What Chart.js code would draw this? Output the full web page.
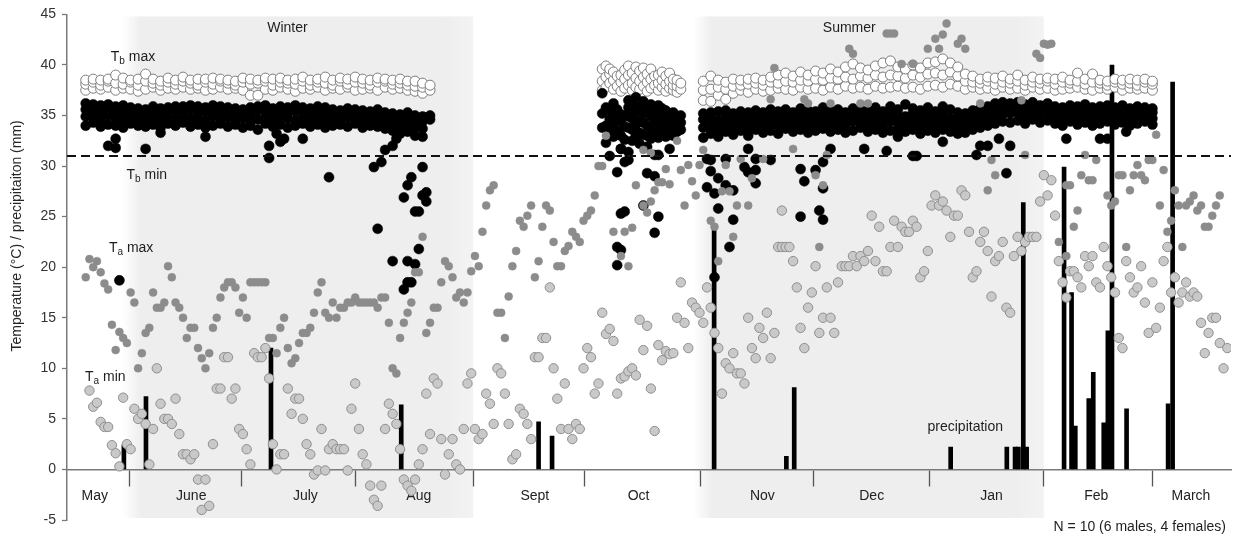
<!DOCTYPE html>
<html>
<head>
<meta charset="utf-8">
<script src="https://cdn.jsdelivr.net/npm/chart.js@4.4.0/dist/chart.umd.min.js"></script>
<style>
  html, body { margin: 0; padding: 0; background: #ffffff; }
  #wrap { width: 1237px; height: 539px; }
</style>
</head>
<body>
<div id="wrap"><canvas id="chart" width="1237" height="539"></canvas></div>
<script>
// ---- Axis labels -------------------------------------------------------
// x axis is in days from mid-May; month names sit between the tick marks.
const monthNames     = ['May', 'June', 'July', 'Aug', 'Sept', 'Oct', 'Nov', 'Dec', 'Jan', 'Feb', 'March'];
const monthLabelDays = [7.4, 33.2, 63.7, 94, 125, 152.7, 185.8, 215, 247, 275, 300.3];
const monthStartDays = [16.7, 46.5, 77.2, 108.5, 138.4, 169.3, 199.5, 230.5, 261, 290];
const yTicks = [-5, 0, 5, 10, 15, 20, 25, 30, 35, 40, 45];

// Season periods (day ranges)
const winterDays = [16.5, 108.5];
const summerDays = [169, 261];

// Threshold drawn as the dashed line (°C)
const tbMinThreshold = 31;

// ---- Body temperature maxima: [day, values of individuals...] ----------
const tbMaxWinter = [
  [5,37.5,38.1,38.5],[7,37.7,38.3,38.6],[9,37.6,38.0,38.5],[11,37.8,38.4,38.6],[13,37.5,38.2,39.0],
  [15,37.7,38.1,38.7],[17,37.6,38.3,38.5],[19,37.4,38.0,38.6],[21,37.6,38.4,39.1],[23,37.8,38.2,38.6],
  [25,37.5,38.0,38.4],[27,37.7,38.3,38.7],[29,37.6,38.1,38.5],[31,37.8,38.4,38.8],[33,37.6,38.2,38.5],
  [35,37.7,38.0,38.6],[37,37.5,38.3,38.6],[39,37.6,38.1,38.7],[41,37.8,38.4,38.6],[43,37.6,38.2,38.5],
  [45,37.7,38.0,38.4],[47,37.5,38.3,38.7],[49,37.0,38.1,38.6],[51,37.0,38.2,38.5],[53,37.6,38.4,38.7],
  [55,37.5,38.0,38.6],[57,37.8,38.3,38.7],[59,37.6,38.2,38.5],[61,37.4,38.1,38.6],[63,37.7,38.4,38.8],
  [65,37.6,38.0,38.5],[67,37.8,38.3,38.6],[69,37.5,38.2,38.8],[71,37.7,38.0,38.5],[73,37.6,38.4,38.7],
  [75,37.8,38.1,38.6],[77,37.5,38.3,38.8],[79,37.6,38.2,38.6],[81,37.7,38.0,38.5],[83,37.5,38.3,38.7],
  [85,37.8,38.4,38.6],[87,37.6,38.1,38.5],[89,37.7,38.2,38.6],[91,37.5,38.0,38.4],[93,37.4,37.9,38.4],
  [95,37.2,37.8,38.2],[97,37.5,38.0]
];
const tbMaxOct = [
  [143,37.5,38.4,39.6],[144,37.8,38.8,39.9],[145,38.2,39.1,39.6],[146,37.6,38.5,39.3],[147,37.9,38.9],
  [148,37.4,38.3,39.0],[149,37.7,38.6,39.5],[150,38.0,39.0,39.9],[151,37.5,38.2,39.2],[152,37.8,38.7,39.8],
  [153,37.6,38.4,39.4],[154,37.9,38.8,39.7],[155,37.4,38.3,39.1],[156,37.7,38.6,39.6],[157,38.0,38.9],
  [158,37.5,38.2,39.0],[159,37.8,38.5,39.3],[160,37.4,38.1,38.9],[161,37.7,38.4,39.2],[162,37.5,38.0,38.6],
  [163,37.3,37.9,38.5],[164,37.6,38.2]
];
const tbMaxSummer = [
  [170,36.5,37.5,38.4],[172,36.4,37.6,38.9],[174,37.0,37.8,38.5],[176,36.6,37.6,38.3],[178,37.2,37.9,38.6],
  [180,37.5,38.0,38.5],[182,37.3,38.1,38.6],[184,37.6,38.2,38.7],[186,37.4,38.0,38.5],[188,37.5,38.3,38.8],
  [190,37.7,38.2,39.0],[192,37.6,38.4,39.2],[194,37.5,38.3,38.9],[196,37.8,38.5,39.3],[198,37.6,38.4,39.0],
  [200,37.7,38.6,39.4],[202,37.5,38.5,39.2],[204,37.8,38.7,39.6],[206,37.6,38.6,39.3],[208,37.9,38.8,39.8],
  [210,37.7,38.6,40.1],[212,37.8,38.9,39.7],[214,37.6,38.7,39.5],[216,37.9,39.0,39.9],[218,37.7,38.8,40.2],
  [220,37.8,39.0,40.4],[222,37.9,38.9,39.8],[224,37.7,38.7,39.6],[226,37.8,39.0,40.0],[228,37.6,38.8,39.7],
  [230,37.9,39.1,40.2],[232,38.0,39.2,40.3],[234,37.8,39.0,40.6],[236,38.1,39.3,40.2],[238,37.9,38.9,39.8],
  [240,37.6,38.4,39.1],[242,37.8,38.3,38.9],[244,37.6,38.2,38.6],[246,37.7,38.4,38.8],[248,37.5,38.1,38.7],
  [250,37.8,38.3,38.9],[252,37.6,38.2,38.6],[254,37.7,38.4,39.0],[256,37.5,38.0,38.5],[258,37.8,38.3,38.8],
  [260,37.6,38.2,38.6],[262,37.7,38.4,38.7],[264,37.5,38.1,38.6],[266,37.6,38.3,38.8],[268,37.7,38.2,38.5],
  [270,37.8,38.4,39.2],[272,37.6,38.1,38.6],[274,37.5,38.3,39.1],[276,37.7,38.2,38.5],[278,37.6,38.0,38.4],
  [280,37.8,38.3,38.6],[282,37.5,38.1,38.5],[284,37.7,38.2,38.6],[286,37.6,38.0,38.5],[288,37.7,38.3,38.6],
  [290,37.5,38.1,38.4]
];

// ---- Body temperature minima: [day, values of individuals...] ----------
const tbMinWinter = [
  [5,34.0,34.9,35.6,36.2],[7,34.3,35.1,35.5,36.1],[9,33.9,34.6,35.4,36.0],[11,34.1,35.0,35.8,36.1],
  [13,34.0,34.7,35.3,35.9],[15,33.8,34.5,35.2,36.0],[17,34.2,34.9,35.6,35.8],[19,34.0,34.6,35.1,35.7],
  [21,33.9,34.4,35.0,35.6],[23,34.1,34.8,35.4,35.9],[25,33.8,34.5,35.0,35.7],[27,34.2,34.9,35.3,35.8],
  [29,34.0,34.6,35.5,35.9],[31,34.3,35.0,35.4,35.9],[33,33.9,34.7,35.6,36.0],[35,34.1,34.8,35.3,35.9],
  [37,33.8,34.5,35.4,35.8],[39,34.0,34.9,35.7,36.0],[41,34.2,34.6,35.2,35.9],[43,33.9,34.8,35.5,35.8],
  [45,34.1,34.5,35.0,35.7],[47,33.8,34.7,35.3,35.6],[49,34.0,34.4,35.1,35.8],[51,33.6,34.6,35.5,35.9],
  [53,34.2,34.8,35.4,36.0],[55,33.9,34.5,35.2,35.7],[57,34.1,34.9,35.6,35.9],[59,33.8,34.7,35.3,35.8],
  [61,34.0,34.5,35.4,36.0],[63,34.2,34.8,35.6,35.8],[65,33.9,34.6,35.1,35.7],[67,34.1,34.9,35.5,35.9],
  [69,33.8,34.4,35.2,35.8],[71,34.0,34.7,35.4,35.6],[73,34.1,34.5,35.0,35.5],[75,33.9,34.8,35.3,35.7],
  [77,34.2,34.6,35.1,35.6],[79,33.8,34.4,35.0,35.5],[81,34.0,34.7,35.2,35.4],[83,33.9,34.5,35.1,35.6],
  [85,33.7,34.3,34.9,35.3],[87,33.5,34.2,34.8,35.2],[89,33.2,34.0,34.6,35.1],[91,33.4,34.1,34.7,35.3],
  [93,33.0,33.8,34.5,35.0],[95,32.9,33.7,34.4,34.9]
];
const tbMinOct = [
  [143,33.8,35.2,37.2],[144,32.3,34.0,35.8],[145,33.4,34.6,35.5],[146,32.9,34.2,35.3,36.2],
  [147,33.5,34.8,35.6],[148,31.7,33.0,34.4,35.1],[149,32.6,33.9,35.0],[150,33.8,34.9,35.8,36.5],
  [151,32.5,33.6,34.7,36.2],[152,33.0,34.1,35.4,36.8],[153,32.2,33.3,34.5,35.9],[154,33.1,34.3,35.2,36.4],
  [155,31.9,33.0,34.0,35.6],[156,32.7,33.8,34.9,36.1],[157,33.4,34.6,35.5],[158,32.8,33.9,35.0,36.0],
  [159,33.3,34.4,35.7],[160,32.9,33.7,34.8,35.5],[161,33.5,34.2,35.1],[162,33.0,33.8,34.6,35.3],
  [163,33.4,34.0,34.9],[164,33.6,34.3,35.0]
];
const tbMinSummer = [
  [170,32.8,33.8,34.6,35.2],[172,33.2,34.0,34.8,35.3],[174,32.9,33.7,34.5,35.4],[176,33.4,34.1,34.9,35.5],
  [178,33.1,33.9,34.7,35.2],[180,33.5,34.2,34.8,35.4],[182,33.0,33.8,34.6,35.3],[184,33.6,34.3,34.9,35.5],
  [186,33.3,34.0,34.7,35.3],[188,33.5,34.2,35.0,35.6],[190,33.2,34.1,34.8,35.4],[192,33.7,34.4,35.0,35.6],
  [194,33.4,34.0,34.6,35.3],[196,33.6,34.3,35.1,35.7],[198,33.3,34.1,34.8,35.5],[200,33.5,34.2,34.9,35.4],
  [202,33.7,34.4,35.1,35.8],[204,33.4,34.0,34.7,35.5],[206,33.6,34.3,35.0,35.6],[208,33.3,34.1,34.8,35.3],
  [210,33.5,34.4,35.2,35.7],[212,33.8,34.5,35.0,35.6],[214,33.4,34.2,34.9,35.5],[216,33.6,34.3,35.1,35.8],
  [218,33.3,34.0,34.8,35.4],[220,33.5,34.4,35.2,35.9],[222,33.7,34.3,35.0,35.6],[224,33.4,34.1,34.9,36.1],
  [226,33.6,34.4,35.2,35.7],[228,33.2,34.0,34.7,35.5],[230,33.5,34.2,35.0,35.8],[232,33.3,34.1,34.8,35.4],
  [234,33.6,34.4,35.1,35.9],[236,33.4,34.0,34.7,35.6],[238,33.2,33.9,34.6,35.3],[240,33.3,34.0,34.8,35.2],
  [242,33.6,34.3,34.9,35.5],[244,33.8,34.5,35.1,35.7],[246,34.0,34.7,35.3,35.9],[248,34.2,35.0,35.6,36.2],
  [250,34.4,35.1,35.7,36.3],[252,34.3,35.2,35.8,36.2],[254,34.5,35.3,35.9,36.3],[256,34.2,35.0,35.7,36.1],
  [258,34.6,35.4,35.9,36.3],[260,34.3,35.1,35.6,36.0],[262,34.5,35.3,35.8,36.2],[264,34.2,34.9,35.5,35.9],
  [266,34.0,34.7,35.3,35.8],[268,34.4,35.0,35.6,36.0],[270,34.1,34.8,35.4,35.9],[272,34.3,35.0,35.7,36.1],
  [274,34.0,34.7,35.3,35.8],[276,34.2,34.9,35.5,35.9],[278,34.4,35.1,35.6,36.0],[280,34.1,34.8,35.4,35.8],
  [282,34.3,35.0,35.5,36.0],[284,34.0,34.6,35.2,35.7],[286,34.2,34.9,35.5,35.9],[288,34.4,35.0,35.6,35.8],
  [290,34.1,34.7,35.3,35.7]
];
// Individual low readings below the main Tb min band: [day, °C]
const tbMinLow = [
  [11,32.0],[13,31.8],[13,32.7],[14,18.7],[21,31.7],[25,33.3],[37,32.9],[54,32.0],[54,30.8],[56,33.2],
  [57,32.4],[58,32.7],[63,32.7],[70,28.9],[82,29.9],[83,23.8],[84,30.4],[85,31.6],[87,32.0],[87,20.6],
  [88,32.7],[90,26.9],[90,17.8],[91,28.1],[91,20.6],[91,18.5],[91,33.5],[92,28.9],[92,18.5],[93,25.5],
  [93,20.3],[94,25.5],[94,21.8],[95,29.9],[95,27.1],[96,27.4],[96,26.5],[96,34.8],[97,34.6],[97,35.0],
  [145,31.0],[147,29.4],[147,22.0],[147,20.2],[148,31.7],[148,25.3],[148,21.7],[149,30.4],[149,25.5],
  [150,30.6],[150,31.4],[154,26.1],[155,29.3],[157,29.0],[157,23.4],[157,31.1],[158,25.0],[158,31.1],
  [161,31.7],[171,30.7],[171,27.9],[172,30.6],[172,29.5],[173,27.3],[173,19.0],[174,28.8],[174,25.8],
  [176,28.1],[176,30.7],[177,22.0],[178,27.6],[178,24.7],[181,29.9],[182,29.4],[182,31.7],[184,30.7],
  [184,29.6],[184,28.3],[188,30.6],[196,29.7],[196,25.0],[197,28.5],[200,29.6],[201,25.6],[202,30.4],
  [202,27.8],[202,24.7],[204,31.7],[213,31.7],[219,31.5],[222,32.9],[226,31.0],[227,31.0],[234,32.4],
  [243,31.1],[244,32.0],[246,32.0],[249,32.7],[251,29.3],[252,32.0],[267,32.7],[276,32.7],[278,32.7],
  [283,33.4]
];

// ---- Air temperature: [day, °C] ----------------------------------------
const taMax = [
  [5,19.0],[6,20.8],[7,20.0],[8,20.6],[9,19.5],[10,18.4],[11,17.8],[12,14.3],[13,11.8],[14,13.6],
  [15,13.0],[16,12.5],[17,17.5],[18,16.5],[19,10.0],[20,11.5],[21,13.5],[22,14.0],[23,17.5],[24,16.0],
  [25,16.0],[26,16.5],[27,20.1],[28,19.0],[29,16.5],[30,16.0],[31,15.0],[32,13.0],[33,14.0],[34,14.0],
  [35,12.0],[36,11.0],[37,10.0],[38,11.5],[39,14.0],[40,15.0],[41,17.0],[42,18.0],[43,18.5],[44,18.5],
  [45,18.0],[46,15.5],[47,17.0],[48,15.0],[49,18.5],[50,18.5],[51,18.5],[52,18.5],[53,18.5],[54,13.0],
  [55,13.0],[56,11.5],[57,14.0],[58,15.0],[59,12.0],[60,10.5],[61,11.0],[62,12.5],[63,13.5],[64,13.5],
  [65,14.0],[66,15.5],[67,17.5],[68,18.5],[69,15.5],[70,15.0],[71,16.5],[72,15.0],[73,16.0],[74,16.0],
  [75,16.5],[76,16.5],[77,17.0],[78,16.5],[79,16.5],[80,16.5],[81,16.5],[82,16.5],[83,16.0],[84,17.0],
  [85,17.0],[86,14.5],[87,10.0],[88,9.5],[89,13.0],[90,14.5],[91,15.5],[92,16.5],[93,19.5],[94,19.5],
  [95,23.0],[96,13.5],[97,14.5],[98,16.0],[99,16.0],[100,18.5],[101,20.6],[102,20.1],[103,19.0],[104,17.0],
  [105,17.5],[106,16.5],[107,17.5],[108,19.6],[109,21.1],[110,20.1],[111,23.5],[112,26.1],[113,27.6],[114,28.1],
  [115,15.5],[116,15.5],[117,13.0],[118,17.1],[119,20.1],[120,21.6],[121,24.6],[122,24.0],[123,25.1],[124,26.1],
  [125,19.0],[126,20.6],[127,24.0],[128,26.1],[129,25.6],[130,22.5],[131,20.1],[132,20.1],[133,21.6],[134,22.1],
  [135,23.5],[136,23.0],[137,22.5],[138,24.6],[139,25.1],[140,25.6],[141,27.1],[142,30.0],[143,30.0],[144,33.0],
  [146,23.5],[148,21.1],[149,23.5],[150,20.1],[151,23.9],[152,28.1],[154,26.1],[154,31.6],[155,25.4],[156,26.5],
  [156,31.3],[157,27.6],[158,28.4],[159,28.4],[160,29.7],[161,28.2],[163,32.5],[164,29.6],[165,26.1],[166,30.1],
  [167,28.5],[168,27.1],[169,30.1],[170,31.6],[172,24.6],[173,24.0],[174,20.6],[175,27.5],[176,30.1],[177,27.5],
  [178,23.0],[179,26.1],[180,30.7],[182,26.1],[183,28.8],[186,30.7],[188,36.6],[189,39.7],[194,31.7],[197,36.6],
  [198,36.2],[200,29.1],[201,22.0],[202,28.1],[203,31.1],[204,36.2],[209,41.6],[210,41.1],[212,36.2],[214,36.2],
  [219,43.1],[220,43.1],[221,43.1],[223,40.1],[226,40.1],[230,41.6],[232,42.6],[233,41.6],[234,43.0],[235,44.1],
  [238,42.1],[239,42.6],[240,41.6],[244,36.2],[246,27.6],[247,30.6],[248,29.1],[255,36.5],[256,31.1],[259,41.1],
  [260,40.7],[261,42.1],[262,42.0],[263,42.1],[265,22.5],[267,21.1],[267,28.1],[268,28.1],[269,24.0],[270,25.6],
  [271,29.1],[272,31.1],[273,28.6],[274,28.6],[275,30.6],[278,27.1],[279,26.1],[280,26.5],[281,29.1],[282,29.1],
  [283,22.0],[284,27.6],[285,29.1],[286,30.1],[287,29.1],[288,28.6],[289,30.6],[290,30.6],[291,33.1],[292,26.1],
  [293,29.6],[294,23.5],[295,24.6],[296,27.6],[297,26.1],[298,22.0],[299,26.1],[300,26.5],[301,27.1],[302,25.6],
  [303,26.1],[304,24.0],[305,24.0],[306,25.1],[307,26.1],[308,27.1]
];
const taMin = [
  [6,7.8],[7,6.2],[8,6.6],[9,4.7],[10,4.2],[11,4.2],[12,2.4],[13,1.6],[14,0.3],[15,7.1],
  [16,2.5],[17,2.0],[18,6.0],[19,5.0],[20,5.5],[21,4.5],[22,0.5],[23,4.0],[24,10.0],[25,6.5],
  [26,5.0],[27,5.0],[28,4.5],[29,7.0],[30,3.5],[31,1.5],[32,1.5],[33,1.0],[34,1.5],[35,-1.0],
  [36,-4.0],[37,-1.0],[38,-3.6],[39,2.5],[40,8.0],[41,8.0],[42,11.1],[43,11.1],[44,7.0],[45,8.0],
  [46,4.0],[47,3.5],[48,2.0],[49,0.5],[50,11.5],[51,11.1],[52,11.1],[53,12.0],[54,9.0],[55,2.5],
  [56,0.0],[57,1.5],[58,1.5],[59,8.0],[60,5.5],[61,7.0],[62,7.0],[63,5.0],[64,2.5],[65,1.5],
  [66,-0.5],[67,-0.1],[68,4.0],[69,-0.1],[70,2.0],[71,2.5],[72,2.0],[73,2.0],[74,2.0],[75,-0.1],
  [76,6.0],[77,8.5],[78,4.0],[79,1.5],[80,0.5],[81,-1.6],[82,-3.0],[83,-3.6],[84,-1.6],[85,4.0],
  [86,6.5],[87,5.5],[88,4.5],[89,2.0],[90,-1.0],[91,-1.6],[92,-2.1],[93,-1.0],[94,0.5],[95,2.0],
  [96,7.5],[97,3.5],[98,9.0],[99,8.5],[100,3.0],[101,-0.5],[102,1.5],[103,3.0],[104,0.5],[105,0.0],
  [106,4.0],[107,8.5],[108,9.5],[109,4.0],[110,3.0],[111,3.5],[112,7.5],[113,6.5],[114,4.5],[115,10.0],
  [116,9.5],[117,7.5],[118,4.5],[119,1.0],[120,1.5],[121,6.0],[122,5.5],[123,4.5],[124,3.0],[125,11.1],
  [126,11.1],[127,13.0],[128,13.0],[129,18.0],[130,10.0],[131,7.0],[132,4.0],[133,8.5],[134,4.0],[135,3.0],
  [136,4.5],[137,4.0],[138,10.0],[139,12.0],[140,11.1],[141,7.5],[142,8.5],[143,15.5],[144,13.4],[145,13.9],
  [146,12.7],[147,7.5],[148,9.0],[149,9.2],[150,9.7],[151,10.0],[152,9.3],[153,14.8],[154,11.8],[155,14.2],
  [156,8.0],[157,3.8],[158,12.3],[159,10.8],[160,11.7],[161,11.4],[162,11.5],[163,15.0],[164,18.5],[165,14.5],
  [166,12.0],[167,16.5],[168,16.0],[169,15.5],[170,14.5],[171,18.0],[172,16.0],[173,13.5],[174,12.0],[175,7.5],
  [176,10.5],[177,10.0],[178,11.5],[179,9.5],[180,9.5],[181,8.5],[182,15.0],[183,12.0],[184,11.0],[185,14.0],
  [186,13.0],[187,15.5],[188,11.0],[189,13.5],[190,22.0],[191,22.0],[191,25.6],[192,22.0],[193,22.0],[194,20.6],
  [195,18.0],[196,14.0],[197,12.0],[198,16.0],[199,17.5],[200,20.1],[201,13.5],[202,15.0],[203,18.0],[204,15.0],
  [205,13.5],[206,18.5],[207,20.1],[208,20.1],[209,20.1],[210,21.1],[211,20.1],[212,21.1],[213,20.6],[214,21.6],
  [215,25.1],[216,20.6],[217,24.0],[218,19.6],[219,19.6],[220,22.0],[221,24.6],[222,22.0],[223,24.0],[224,23.5],
  [225,23.5],[226,24.6],[227,24.0],[228,19.0],[229,19.6],[230,21.6],[231,26.1],[232,27.1],[233,26.1],[234,26.5],
  [235,25.6],[236,23.0],[237,25.1],[238,25.1],[239,27.6],[240,27.1],[241,23.5],[242,19.0],[243,19.6],[244,22.5],
  [245,23.5],[246,21.6],[247,17.1],[248,20.6],[249,21.1],[250,22.5],[251,16.0],[252,15.5],[253,21.1],[254,23.0],
  [255,21.6],[256,22.5],[257,23.0],[258,23.0],[259,23.0],[260,26.5],[261,29.1],[262,27.1],[263,28.6],[264,25.1],
  [265,20.6],[266,18.5],[267,17.0],[268,19.6],[269,19.6],[270,19.0],[271,18.0],[272,21.1],[273,20.1],[274,21.1],
  [275,18.5],[276,18.0],[277,22.0],[278,20.1],[279,19.0],[280,17.5],[281,13.0],[282,12.0],[283,20.6],[284,19.0],
  [285,17.5],[286,18.0],[287,20.1],[288,16.5],[289,13.5],[290,18.5],[291,14.0],[292,16.0],[293,20.6],[294,22.0],
  [295,17.5],[296,19.0],[297,16.5],[298,17.5],[299,18.5],[300,17.1],[301,17.5],[302,17.1],[303,14.5],[304,11.5],
  [305,13.5],[306,15.0],[307,15.0],[308,12.5],[309,10.0],[310,12.0]
];

// ---- Daily precipitation: [day, mm] ------------------------------------
const precipitation = [
  [15.2,2.4],[21.1,7.2],[54.5,12.0],[89.3,6.4],[126.0,4.7],[129.6,3.3],[172.9,24.3],[192.2,1.3],
  [194.3,8.1],[236.1,2.2],[251.1,2.2],[253.3,2.2],[254.2,2.2],[255.5,26.4],[256.4,2.2],[266.4,29.9],
  [268.4,17.5],[269.4,4.3],[273.0,7.0],[274.2,9.6],[277.0,4.6],[278.1,13.7],[279.2,40.0],[283.1,6.0],
  [294.2,6.5],[295.4,38.3]
];

// ---- Helpers -------------------------------------------------------------
const fromRecords = recs => recs.flatMap(r => r.slice(1).map(v => ({ x: r[0], y: v })));
const fromPairs = pairs => pairs.map(([d, v]) => ({ x: d, y: v }));

const FONT = '"Liberation Sans", Arial, Helvetica, sans-serif';
Chart.defaults.font.family = FONT;
Chart.defaults.font.size = 14;
Chart.defaults.color = '#262626';

const xTickValues = [...monthStartDays, ...monthLabelDays].sort((a, b) => a - b);

// Text placed in data coordinates [day, °C]
const seasonTitles = [
  { text: 'Winter', at: [58.9, 43.6] },
  { text: 'Summer', at: [209, 43.6] }
];
const seriesTitles = [
  { main: 'T', sub: 'b', rest: ' max', at: [11.7, 40.8] },
  { main: 'T', sub: 'b', rest: ' min', at: [15.9, 29.1] },
  { main: 'T', sub: 'a', rest: ' max', at: [11.2, 21.9] },
  { main: 'T', sub: 'a', rest: ' min', at: [4.8, 9.1] }
];
const notes = [
  { text: 'precipitation', at: [240, 4.2], align: 'center' },
  { text: 'N = 10 (6 males, 4 females)', at: [263.6, -5.7], align: 'left' }
];
const yTitle = 'Temperature (°C) / precipitaiton (mm)';

const SHADE = '238,238,238';

const decorations = {
  id: 'decorations',
  beforeDraw(chart) {
    const { ctx } = chart;
    const xs = chart.scales.x, ys = chart.scales.y;
    const top = ys.getPixelForValue(44.8), bottom = ys.getPixelForValue(-4.8);
    const shade = span => {
      const x0 = xs.getPixelForValue(span[0]), x1 = xs.getPixelForValue(span[1]);
      const w = x1 - x0 + 6;
      const g = ctx.createLinearGradient(x0 - 6, 0, x1, 0);
      g.addColorStop(0, 'rgba(' + SHADE + ',0)');
      g.addColorStop(18 / w, 'rgba(' + SHADE + ',1)');
      g.addColorStop(1 - 30 / w, 'rgba(' + SHADE + ',1)');
      g.addColorStop(1, 'rgba(243,243,243,1)');
      ctx.save();
      ctx.fillStyle = g;
      ctx.fillRect(x0 - 6, top, w, bottom - top);
      ctx.restore();
    };
    shade(winterDays);
    shade(summerDays);
  },
  afterDatasetsDraw(chart) {
    const { ctx, chartArea } = chart;
    const xs = chart.scales.x, ys = chart.scales.y;
    const px = d => xs.getPixelForValue(d), py = v => ys.getPixelForValue(v);

    // dashed threshold line
    ctx.save();
    ctx.strokeStyle = '#111';
    ctx.lineWidth = 2;
    ctx.setLineDash([9, 5]);
    ctx.beginPath();
    ctx.moveTo(chartArea.left, py(tbMinThreshold));
    ctx.lineTo(chartArea.right, py(tbMinThreshold));
    ctx.stroke();
    ctx.restore();

    ctx.save();
    ctx.fillStyle = '#1e1e1e';
    ctx.textBaseline = 'middle';
    ctx.font = '14px ' + FONT;
    ctx.textAlign = 'center';
    seasonTitles.forEach(s => ctx.fillText(s.text, px(s.at[0]), py(s.at[1])));

    seriesTitles.forEach(s => {
      let x = px(s.at[0]);
      const y = py(s.at[1]);
      ctx.textAlign = 'left';
      ctx.font = '14px ' + FONT;
      ctx.fillText(s.main, x, y);
      x += ctx.measureText(s.main).width;
      ctx.font = '10px ' + FONT;
      ctx.fillText(s.sub, x, y + 4);
      x += ctx.measureText(s.sub).width;
      ctx.font = '14px ' + FONT;
      ctx.fillText(s.rest, x, y);
    });

    ctx.font = '14px ' + FONT;
    notes.forEach(n => {
      ctx.textAlign = n.align;
      ctx.fillText(n.text, px(n.at[0]), py(n.at[1]));
    });

    // vertical axis title
    ctx.translate(17, py(23.1));
    ctx.rotate(-Math.PI / 2);
    ctx.textAlign = 'center';
    ctx.fillStyle = '#262626';
    ctx.fillText(yTitle, 0, 0);
    ctx.restore();
  }
};

new Chart(document.getElementById('chart'), {
  type: 'scatter',
  data: {
    datasets: [
      {
        label: 'Ta max', data: fromPairs(taMax), order: 1,
        pointRadius: 4, pointBackgroundColor: '#8c8c8c', pointBorderColor: '#8c8c8c', pointBorderWidth: 0.5
      },
      {
        label: 'Ta min', data: fromPairs(taMin), order: 2,
        pointRadius: 4.7, pointBackgroundColor: '#c9c9c9', pointBorderColor: '#8f8f8f', pointBorderWidth: 1
      },
      {
        label: 'Tb min', data: [...fromRecords(tbMinWinter), ...fromRecords(tbMinOct), ...fromRecords(tbMinSummer), ...fromPairs(tbMinLow)],
        order: 3, pointRadius: 5, pointBackgroundColor: '#000', pointBorderColor: '#000', pointBorderWidth: 0.5
      },
      {
        label: 'Tb max', data: [...fromRecords(tbMaxWinter), ...fromRecords(tbMaxOct), ...fromRecords(tbMaxSummer)],
        order: 4, pointRadius: 5, pointBackgroundColor: '#ffffff', pointBorderColor: '#7d7d7d', pointBorderWidth: 1
      },
      {
        type: 'bar', label: 'precipitation', data: fromPairs(precipitation), order: 5,
        backgroundColor: '#000', borderWidth: 0, barThickness: 4
      }
    ]
  },
  options: {
    responsive: false,
    animation: false,
    devicePixelRatio: 1,
    layout: { padding: { top: 12, bottom: 19, left: 0, right: 0 } },
    plugins: { legend: { display: false }, tooltip: { enabled: false } },
    scales: {
      x: {
        type: 'linear', min: 0, max: 311, offset: false,
        position: { y: 0 },
        afterBuildTicks: scale => { scale.ticks = xTickValues.map(v => ({ value: v })); },
        ticks: {
          autoSkip: false, maxRotation: 0, minRotation: 0, padding: 2,
          font: { size: 14 }, color: '#222',
          callback: value => {
            const i = monthLabelDays.indexOf(value);
            return i >= 0 ? monthNames[i] : '';
          }
        },
        grid: {
          offset: false, drawOnChartArea: false, drawTicks: true, tickLength: 16, tickWidth: 1.3,
          tickColor: ctx => (ctx.tick && monthStartDays.includes(ctx.tick.value)) ? '#555' : 'rgba(0,0,0,0)'
        },
        border: { display: true, color: '#7a7a7a', width: 1.5 }
      },
      y: {
        type: 'linear', min: -5, max: 45,
        afterBuildTicks: scale => { scale.ticks = yTicks.map(v => ({ value: v })); },
        afterFit: scale => { scale.width = 67; },
        ticks: { font: { size: 14 }, color: '#333', padding: 6 },
        grid: { drawOnChartArea: false, drawTicks: true, tickLength: 5, tickColor: '#7a7a7a', tickWidth: 1.3 },
        border: { display: true, color: '#7a7a7a', width: 1.5 }
      }
    }
  },
  plugins: [decorations]
});
</script>
</body>
</html>
